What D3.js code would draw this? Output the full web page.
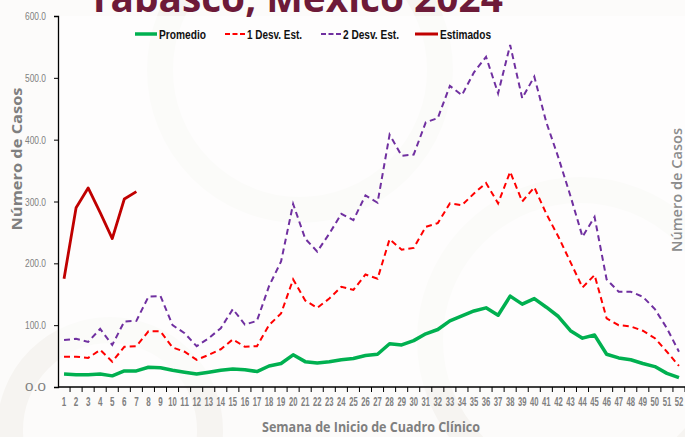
<!DOCTYPE html>
<html>
<head>
<meta charset="utf-8">
<title>Tabasco, México 2024</title>
<script src="https://d3js.org/d3.v7.min.js"></script>
<style>
    body { margin: 0; padding: 0; background: #fcfbfa; }
    svg { display: block; }
    .tick text { font-family: "Liberation Sans", Arial, sans-serif; fill: #7f7f7f; }
</style>
</head>
<body>
<div id="chart"></div>
<script>
    var width = 685,
        height = 437;

    // semanas 1..52
    var weeks = d3.range(1, 53);
    var yTicks = [0, 100, 200, 300, 400, 500, 600];

    var promedio = [21, 20, 20, 21, 18, 26, 26, 32, 31, 27, 24, 21, 24, 27, 29, 28,
        25, 34, 38, 52, 41, 39, 41, 44, 46, 51, 53, 70, 68, 75, 86, 93, 107, 115, 123, 128,
        116, 147, 134, 143, 129, 114, 91, 79, 84, 53, 47, 44, 38, 33, 22, 15];

    var desv1 = [49, 49, 47, 60, 41, 65, 66, 90, 90, 64, 57, 44, 52, 61, 77, 65,
        66, 100, 119, 174, 140, 128, 143, 162, 157, 182, 175, 239, 222, 225, 259, 265, 297, 294, 313, 330,
        297, 348, 300, 323, 280, 243, 202, 161, 181, 111, 100, 98, 91, 79, 57, 34];

    var desv2 = [76, 78, 73, 94, 68, 106, 107, 146, 147, 100, 87, 66, 79, 95, 126, 101,
        107, 163, 203, 296, 240, 219, 248, 280, 270, 310, 298, 408, 374, 376, 428, 435, 487, 472, 509, 534,
        475, 553, 467, 502, 428, 371, 309, 243, 275, 174, 154, 154, 146, 126, 95, 57];

    var estWeeks = [1, 2, 3, 4, 5, 6, 7];
    var estimados = [175, 290, 322, 282, 240, 304, 316];

    var svg = d3.select("#chart").append("svg")
        .attr("width", width)
        .attr("height", height);

    // ajusta el ancho de un texto (fuente estrecha no disponible)
    function fit(sel, w) {
        sel.attr("textLength", w).attr("lengthAdjust", "spacingAndGlyphs");
    }
    // estrecha un texto de eje con escala horizontal
    function squeeze(node, w) {
        var len = node.getComputedTextLength();
        var x0 = +node.getAttribute("x") || 0;
        var s = w / len;
        d3.select(node).attr("transform", "translate(" + (x0 * (1 - s)) + ",0) scale(" + s + ",1)");
    }

    // fondo con trazos muy tenues
    svg.append("rect").attr("width", width).attr("height", height).attr("fill", "#fcfbfa");
    var bg = svg.append("g").attr("fill", "none").attr("stroke", "#f6f4f1").attr("stroke-width", 26);
    bg.append("circle").attr("cx", 300).attr("cy", 70).attr("r", 140);
    bg.append("circle").attr("cx", 110).attr("cy", 430).attr("r", 100);
    bg.append("circle").attr("cx", 580).attr("cy", 340).attr("r", 150);
    svg.append("rect").attr("x", 58).attr("y", 16).attr("width", 627).attr("height", 371)
        .attr("fill", "#ffffff").attr("opacity", 0.6);

    var x = d3.scaleBand()
        .domain(weeks)
        .range([58, 685]);

    var y = d3.scaleLinear()
        .domain([0, 600])
        .range([387, 16]);

    var cx = function(w) { return x(w) + x.bandwidth() / 2; };

    // titulo (cortado arriba)
    var title = svg.append("text")
        .text("Tabasco, México 2024")
        .attr("x", 88)
        .attr("y", 12)
        .attr("fill", "#6d1a38")
        .style("font-family", "Open Sans, sans-serif")
        .style("font-weight", "bold")
        .style("font-size", "36px");
    var tl = title.node().getComputedTextLength();
    title.style("font-size", (36 * 415 / tl) + "px");

    // ejes
    var yAxis = svg.append("g")
        .attr("transform", "translate(58,0)")
        .call(d3.axisLeft(y).tickValues(yTicks).tickSize(4).tickPadding(8)
            .tickFormat(function(d) { return d3.format(".1f")(d); }));
    yAxis.selectAll(".tick text")
        .style("font-size", "11px")
        .each(function() { squeeze(this, 21); });

    var xAxis = svg.append("g")
        .attr("transform", "translate(0,387)")
        .call(d3.axisBottom(x).tickSize(0).tickPadding(10));
    xAxis.selectAll(".tick text")
        .style("font-size", "13px")
        .style("font-weight", "bold")
        .each(function(d) { squeeze(this, d < 10 ? 4.5 : 8.5); });
    xAxis.selectAll(".domain").remove();
    svg.selectAll(".domain").attr("stroke", "#000").attr("stroke-width", 1.3);

    // marcas entre categorias
    svg.append("g").selectAll("line")
        .data(weeks)
        .enter().append("line")
        .attr("x1", function(d) { return x(d) + x.bandwidth(); })
        .attr("x2", function(d) { return x(d) + x.bandwidth(); })
        .attr("y1", 387)
        .attr("y2", 392)
        .attr("stroke", "#000")
        .attr("stroke-width", 1);
    svg.append("line")
        .attr("x1", 58).attr("x2", 685).attr("y1", 387).attr("y2", 387)
        .attr("stroke", "#000").attr("stroke-width", 1.3);

    // lineas
    var line = d3.line()
        .x(function(d) { return cx(d[0]); })
        .y(function(d) { return y(d[1]); });

    function pairs(ws, vals) { return ws.map(function(w, i) { return [w, vals[i]]; }); }

    svg.append("path").datum(pairs(weeks, desv2))
        .attr("d", line).attr("fill", "none")
        .attr("stroke", "#7030a0").attr("stroke-width", 2).attr("stroke-dasharray", "6,4");

    svg.append("path").datum(pairs(weeks, desv1))
        .attr("d", line).attr("fill", "none")
        .attr("stroke", "#ff0000").attr("stroke-width", 2).attr("stroke-dasharray", "6,4");

    svg.append("path").datum(pairs(weeks, promedio))
        .attr("d", line).attr("fill", "none")
        .attr("stroke", "#00b050").attr("stroke-width", 3.5).attr("stroke-linejoin", "round");

    svg.append("path").datum(pairs(estWeeks, estimados))
        .attr("d", line).attr("fill", "none")
        .attr("stroke", "#c00000").attr("stroke-width", 2.8).attr("stroke-linejoin", "round");

    // leyenda
    var legend = [
        { name: "Promedio", color: "#00b050", dash: null, w: 3.5, x: 135, lw: 22, tw: 47 },
        { name: "1 Desv. Est.", color: "#ff0000", dash: "5,2.5", w: 2, x: 225, lw: 20, tw: 55 },
        { name: "2 Desv. Est.", color: "#7030a0", dash: "5,2.5", w: 2, x: 321, lw: 20, tw: 56 },
        { name: "Estimados", color: "#c00000", dash: null, w: 3, x: 415, lw: 23, tw: 51 }
    ];
    var lg = svg.append("g").selectAll("g")
        .data(legend)
        .enter().append("g")
        .attr("transform", function(d) { return "translate(" + d.x + ",34)"; });
    lg.append("line")
        .attr("x1", 0).attr("x2", function(d) { return d.lw; })
        .attr("y1", 0).attr("y2", 0)
        .attr("stroke", function(d) { return d.color; })
        .attr("stroke-width", function(d) { return d.w; })
        .attr("stroke-dasharray", function(d) { return d.dash; });
    lg.append("text")
        .text(function(d) { return d.name; })
        .attr("x", function(d) { return d.lw + 2; })
        .attr("y", 4.5)
        .attr("textLength", function(d) { return d.tw; })
        .attr("lengthAdjust", "spacingAndGlyphs")
        .style("font-family", "Liberation Sans, Arial, sans-serif")
        .style("font-weight", "bold")
        .style("font-size", "12.5px")
        .attr("fill", "#111");

    // titulos de ejes
    svg.append("text")
        .text("Número de Casos")
        .attr("transform", "translate(22,159) rotate(-90)")
        .attr("text-anchor", "middle")
        .attr("fill", "#7f7f7f")
        .style("font-family", "Open Sans, sans-serif")
        .style("font-weight", "bold")
        .style("font-size", "14px")
        .call(fit, 143);

    svg.append("text")
        .text("Número de Casos")
        .attr("transform", "translate(682,190) rotate(-90)")
        .attr("text-anchor", "middle")
        .attr("fill", "#8c8c8c")
        .style("font-family", "Open Sans, sans-serif")
        .style("font-weight", "600")
        .style("font-size", "13.5px")
        .call(fit, 124);

    svg.append("text")
        .text("Semana de Inicio de Cuadro Clínico")
        .attr("x", 371)
        .attr("y", 432)
        .attr("text-anchor", "middle")
        .attr("fill", "#7f7f7f")
        .style("font-family", "Open Sans, sans-serif")
        .style("font-weight", "bold")
        .style("font-size", "14px")
        .call(fit, 218);
</script>
</body>
</html>
